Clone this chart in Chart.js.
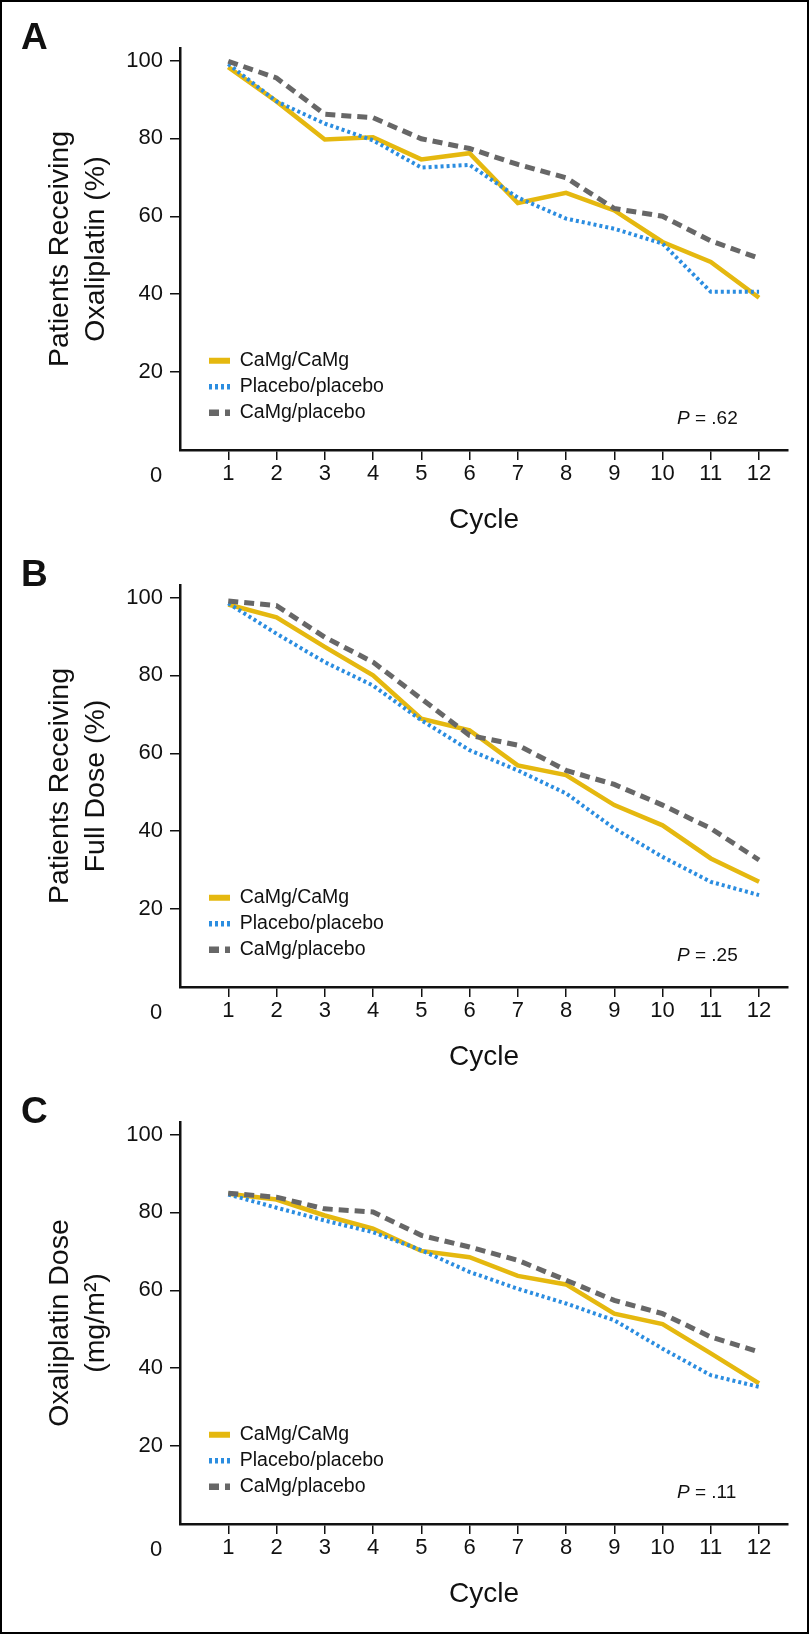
<!DOCTYPE html>
<html>
<head>
<meta charset="utf-8">
<script src="https://cdn.jsdelivr.net/npm/chart.js@4.4.1/dist/chart.umd.min.js"></script>
<style>
  body { margin: 0; background: #fff; }
  #page { position: relative; width: 809px; height: 1634px; background: #fff; }
  #page canvas { position: absolute; left: 0; }
  #frame { position: absolute; left: 0; top: 0; width: 809px; height: 1634px; box-sizing: border-box; border: 2px solid #000; pointer-events: none; }
</style>
</head>
<body>
<div id="page">
  <canvas id="chartA" width="809" height="537" style="top:0px"></canvas>
  <canvas id="chartB" width="809" height="537" style="top:537px"></canvas>
  <canvas id="chartC" width="809" height="537" style="top:1074px"></canvas>
  <div id="frame"></div>
</div>
<script>
const cycles = [1, 2, 3, 4, 5, 6, 7, 8, 9, 10, 11, 12];
const seriesNames = ['CaMg/CaMg', 'Placebo/placebo', 'CaMg/placebo'];

// A: patients receiving oxaliplatin (%)
const receivingCaMgCaMg = [98.3, 89.5, 79.7, 80.3, 74.6, 76.2, 63.4, 66.0, 61.5, 53.4, 48.3, 39.1];
const receivingPlaceboPlacebo = [99.1, 89.5, 83.8, 79.5, 72.5, 73.2, 64.8, 59.4, 56.8, 53.0, 40.6, 40.6];
const receivingCaMgPlacebo = [99.8, 95.5, 86.2, 85.3, 79.9, 77.4, 73.3, 69.9, 62.0, 60.0, 53.7, 49.2];

// B: patients receiving full dose (%)
const fullDoseCaMgCaMg = [98.2, 94.9, 87.3, 80.0, 68.9, 65.9, 56.9, 54.4, 46.7, 41.5, 33.0, 27.0];
const fullDosePlaceboPlacebo = [98.5, 90.7, 83.4, 77.4, 68.5, 60.8, 55.6, 49.7, 40.7, 33.4, 27.0, 23.6];
const fullDoseCaMgPlacebo = [99.1, 97.9, 89.8, 83.4, 74.0, 64.6, 62.1, 55.6, 52.0, 46.7, 40.7, 32.6];

// C: oxaliplatin dose (mg/m2)
const doseCaMgCaMg = [84.8, 83.3, 79.2, 75.8, 70.1, 68.5, 63.7, 61.5, 54.0, 51.3, 43.8, 36.1];
const dosePlaceboPlacebo = [84.6, 81.2, 77.9, 74.9, 70.3, 64.7, 60.4, 56.6, 52.3, 45.0, 38.2, 35.2];
const doseCaMgPlacebo = [84.9, 83.9, 80.9, 80.1, 74.1, 71.1, 67.7, 62.6, 57.4, 54.0, 48.0, 44.2];

const panelLetters = ['A', 'B', 'C'];
const pValues = ['.62', '.25', '.11'];
const yTitles = [
    ['Patients Receiving', 'Oxaliplatin (%)'],
    ['Patients Receiving', 'Full Dose (%)'],
    ['Oxaliplatin Dose', '(mg/m\u00B2)']
];

const FONT = '"Liberation Sans", Arial, Helvetica, sans-serif';
const INK = '#111111';
const lineStyles = [
    { borderColor: '#e5b80f', borderWidth: 4.5, borderDash: [], order: 3 },
    { borderColor: '#2b8de0', borderWidth: 4, borderDash: [3, 3], order: 2 },
    { borderColor: '#676767', borderWidth: 5, borderDash: [10, 6], order: 1 }
];

Chart.defaults.font.family = FONT;
Chart.defaults.color = INK;

// panel letter, origin "0", P value, and legend placement inside the plot
const panelText = {
    id: 'panelText',
    afterLayout(chart) {
        const lg = chart.legend;
        const pad = lg.options.labels.padding;
        lg.left = 209 - pad;
        lg.right = lg.left + 300;
        lg.top = 351 - pad;
        lg.bottom = lg.top + 200;
    },
    afterDraw(chart, args, opts) {
        const { ctx } = chart;
        const x = chart.scales.x;
        const y = chart.scales.y;
        ctx.save();
        ctx.fillStyle = INK;
        ctx.font = 'bold 37px ' + FONT;
        ctx.textAlign = 'left';
        ctx.textBaseline = 'alphabetic';
        ctx.fillText(opts.letter, 21, 49);

        ctx.font = '22px ' + FONT;
        ctx.textAlign = 'center';
        ctx.textBaseline = 'middle';
        ctx.fillText('0', x.getPixelForValue(0) - 24, y.getPixelForValue(0) + 26);

        const px = 677;
        const py = y.getPixelForValue(0) - 31;
        ctx.textAlign = 'left';
        ctx.font = 'italic 19px ' + FONT;
        ctx.fillText('P', px, py);
        const w = ctx.measureText('P').width;
        ctx.font = '19px ' + FONT;
        ctx.fillText(' = ' + opts.p, px + w, py);
        ctx.restore();
    }
};

// legend samples: keep each series' dash pattern, a bit thicker
function legendLabels(chart) {
    const items = Chart.defaults.plugins.legend.labels.generateLabels(chart);
    items.forEach((item) => {
        const ds = chart.data.datasets[item.datasetIndex];
        item.lineWidth = ds.borderWidth + 1.5;
        item.lineDash = ds.borderDash;
        item.lineCap = 'butt';
        item.strokeStyle = ds.borderColor;
    });
    return items;
}

function makePanel(canvasId, idx, series) {
    const datasets = series.map((vals, i) => ({
        label: seriesNames[i],
        data: cycles.map((c, j) => ({ x: c, y: vals[j] })),
        borderColor: lineStyles[i].borderColor,
        backgroundColor: lineStyles[i].borderColor,
        borderWidth: lineStyles[i].borderWidth,
        borderDash: lineStyles[i].borderDash,
        borderCapStyle: 'butt',
        order: lineStyles[i].order,
        pointRadius: 0,
        tension: 0,
        fill: false
    }));

    return new Chart(document.getElementById(canvasId), {
        type: 'line',
        data: { datasets: datasets },
        plugins: [panelText],
        options: {
            responsive: false,
            animation: false,
            devicePixelRatio: 1,
            layout: { padding: { left: 0, right: 21, top: 48, bottom: 0 } },
            plugins: {
                tooltip: { enabled: false },
                legend: {
                    position: 'chartArea',
                    align: 'start',
                    labels: {
                        usePointStyle: true,
                        pointStyle: 'line',
                        pointStyleWidth: 21,
                        padding: 6.5,
                        color: INK,
                        font: { size: 19.5 },
                        generateLabels: legendLabels,
                        sort: (a, b) => a.datasetIndex - b.datasetIndex
                    }
                },
                panelText: { letter: panelLetters[idx], p: pValues[idx] }
            },
            scales: {
                x: {
                    type: 'linear',
                    min: 0,
                    max: 12.6,
                    afterFit: (scale) => { scale.height = 87; },
                    border: { display: true, color: INK, width: 2.5 },
                    grid: {
                        drawOnChartArea: false,
                        drawTicks: true,
                        tickLength: 10,
                        lineWidth: 1.5,
                        color: (c) => (c.tick && c.tick.value === 0) ? 'rgba(0,0,0,0)' : INK
                    },
                    ticks: {
                        stepSize: 1,
                        includeBounds: false,
                        autoSkip: false,
                        maxRotation: 0,
                        padding: 1,
                        color: INK,
                        font: { size: 22 },
                        callback: (v) => v === 0 ? '' : v
                    },
                    title: {
                        display: true,
                        text: 'Cycle',
                        color: INK,
                        font: { size: 28 },
                        padding: { top: 0, bottom: 0 }
                    }
                },
                y: {
                    min: 0,
                    max: 103.2,
                    afterFit: (scale) => { scale.width = 180; },
                    border: { display: true, color: INK, width: 2.5 },
                    grid: {
                        drawOnChartArea: false,
                        drawTicks: true,
                        tickLength: 10,
                        lineWidth: 1.5,
                        color: (c) => (c.tick && c.tick.value === 0) ? 'rgba(0,0,0,0)' : INK
                    },
                    ticks: {
                        stepSize: 20,
                        includeBounds: false,
                        padding: 7,
                        color: INK,
                        font: { size: 22 },
                        callback: (v) => v === 0 ? '' : v
                    },
                    title: {
                        display: true,
                        text: yTitles[idx],
                        color: INK,
                        font: { size: 28.5, lineHeight: 1.263 },
                        padding: { top: 42, bottom: 0 }
                    }
                }
            }
        }
    });
}

const chartA = makePanel('chartA', 0, [receivingCaMgCaMg, receivingPlaceboPlacebo, receivingCaMgPlacebo]);
const chartB = makePanel('chartB', 1, [fullDoseCaMgCaMg, fullDosePlaceboPlacebo, fullDoseCaMgPlacebo]);
const chartC = makePanel('chartC', 2, [doseCaMgCaMg, dosePlaceboPlacebo, doseCaMgPlacebo]);
</script>
</body>
</html>
